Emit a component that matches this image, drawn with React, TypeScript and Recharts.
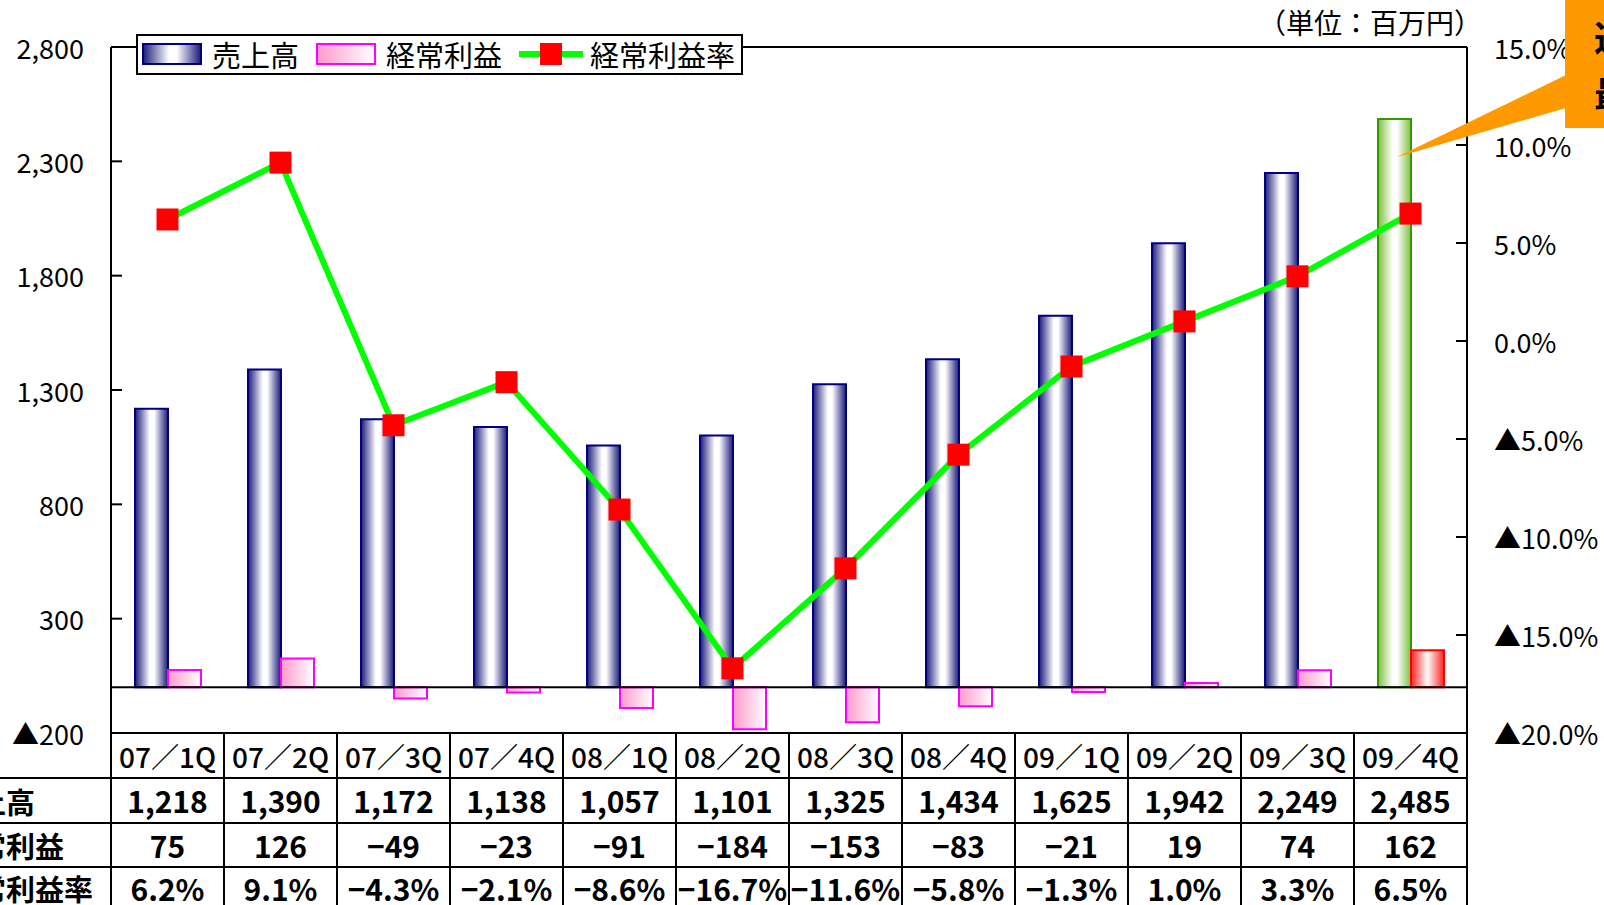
import React from "react";
import {
  Bar,
  Cell,
  ComposedChart,
  Legend,
  Line,
  ReferenceLine,
  XAxis,
  YAxis,
} from "recharts";

const FONT = '"Noto Sans CJK JP", "Noto Sans", sans-serif';

const quarters = [
  "07／1Q", "07／2Q", "07／3Q", "07／4Q",
  "08／1Q", "08／2Q", "08／3Q", "08／4Q",
  "09／1Q", "09／2Q", "09／3Q", "09／4Q",
];
const sales = [1218, 1390, 1172, 1138, 1057, 1101, 1325, 1434, 1625, 1942, 2249, 2485];
const profit = [75, 126, -49, -23, -91, -184, -153, -83, -21, 19, 74, 162];
const profitRate = [6.2, 9.1, -4.3, -2.1, -8.6, -16.7, -11.6, -5.8, -1.3, 1.0, 3.3, 6.5];
const leftTicks = [-200, 300, 800, 1300, 1800, 2300, 2800];
const rightTicks = [-20, -15, -10, -5, 0, 5, 10, 15];
const rowLabels = ["売上高", "経常利益", "経常利益率"];

const data = quarters.map((q, i) => ({
  q,
  sales: sales[i],
  profit: profit[i],
  rate: profitRate[i],
}));

const lastIdx = quarters.length - 1;

const fmtSales = (v: number) => v.toLocaleString("en-US");
const fmtSigned = (v: number) => (v < 0 ? "−" + Math.abs(v) : String(v));
const fmtRate = (v: number) =>
  (v < 0 ? "−" + Math.abs(v).toFixed(1) : v.toFixed(1)) + "%";
const fmtLeft = (v: number) =>
  v < 0 ? "▲" + Math.abs(v) : v.toLocaleString("en-US");
const fmtRight = (v: number) =>
  v < 0 ? "▲" + Math.abs(v).toFixed(1) + "%" : v.toFixed(1) + "%";

function LeftTick(props: any) {
  const { x, y, payload } = props;
  return (
    <g>
      <line x1={x} x2={x + 11} y1={y} y2={y} stroke="#000" strokeWidth={2} />
      <text
        x={x - 27}
        y={y}
        textAnchor="end"
        dominantBaseline="central"
        fontSize={27}
        fontFamily={FONT}
        fill="#000"
      >
        {fmtLeft(payload.value)}
      </text>
    </g>
  );
}

function RightTick(props: any) {
  const { x, y, payload } = props;
  return (
    <g>
      <line x1={x} x2={x - 11} y1={y} y2={y} stroke="#000" strokeWidth={2} />
      <text
        x={x + 27}
        y={y}
        textAnchor="start"
        dominantBaseline="central"
        fontSize={27}
        fontFamily={FONT}
        fill="#000"
      >
        {fmtRight(payload.value)}
      </text>
    </g>
  );
}

// each x tick draws one column of the data table under the chart
function TableTick(props: any) {
  const { x, y, payload, index } = props;
  const half =
    payload && payload.offset ? payload.offset : (props.width || 1356) / quarters.length / 2;
  const i = index ?? quarters.indexOf(payload.value);
  const l = x - half;
  const r = x + half;
  const rows = [
    payload.value,
    fmtSales(sales[i]),
    fmtSigned(profit[i]),
    fmtRate(profitRate[i]),
  ];
  const lines = [0, 45, 90, 134];
  const centers = [23, 67, 112, 155];
  return (
    <g>
      {lines.map((d) => (
        <line key={d} x1={l} x2={r} y1={y + d} y2={y + d} stroke="#000" strokeWidth={2} />
      ))}
      <line x1={l} x2={l} y1={y} y2={y + 180} stroke="#000" strokeWidth={2} />
      <line x1={r} x2={r} y1={y} y2={y + 180} stroke="#000" strokeWidth={2} />
      {rows.map((t, k) => (
        <text
          key={k}
          x={x}
          y={y + centers[k]}
          textAnchor="middle"
          dominantBaseline="central"
          fontSize={k === 0 ? 28 : 30}
          fontWeight={k === 0 ? 500 : "bold"}
          fontFamily={FONT}
          fill="#000"
        >
          {t}
        </text>
      ))}
    </g>
  );
}

function SquareDot(props: any) {
  const { cx, cy } = props;
  if (cx == null || cy == null) return null;
  return <rect x={cx - 11} y={cy - 11} width={22} height={22} fill="#FF0000" />;
}

function LegendBox() {
  const txt: React.CSSProperties = {
    position: "absolute",
    top: 0,
    height: 37,
    lineHeight: "37px",
    fontSize: 29,
    fontFamily: FONT,
    color: "#000",
    whiteSpace: "nowrap",
  };
  return (
    <div
      style={{
        position: "relative",
        width: 607,
        height: 41,
        border: "2px solid #000",
        boxSizing: "border-box",
        background: "#fff",
      }}
    >
      <svg width={60} height={22} style={{ position: "absolute", left: 4, top: 7 }}>
        <rect x={1} y={1} width={58} height={20} fill="url(#gSales)" stroke="#000080" strokeWidth={2} />
      </svg>
      <span style={{ ...txt, left: 74 }}>売上高</span>
      <svg width={60} height={22} style={{ position: "absolute", left: 178, top: 7 }}>
        <rect x={1} y={1} width={58} height={20} fill="url(#gProfit)" stroke="#FF00FF" strokeWidth={2} />
      </svg>
      <span style={{ ...txt, left: 248 }}>経常利益</span>
      <svg width={64} height={24} style={{ position: "absolute", left: 381, top: 6 }}>
        <line x1={0} x2={64} y1={12} y2={12} stroke="#00FF00" strokeWidth={6} />
        <rect x={21} y={1} width={22} height={22} fill="#FF0000" />
      </svg>
      <span style={{ ...txt, left: 452 }}>経常利益率</span>
    </div>
  );
}

export default function App() {
  return (
    <div
      style={{
        position: "absolute",
        left: 0,
        top: 0,
        width: 1604,
        height: 905,
        background: "#fff",
        fontFamily: FONT,
        overflow: "hidden",
      }}
    >
      <ComposedChart
        width={1604}
        height={905}
        data={data}
        margin={{ top: 47, right: 0, bottom: 0, left: 0 }}
        barGap={0}
        barCategoryGap={0}
      >
        <defs>
          <linearGradient id="gSales" x1="0" y1="0" x2="1" y2="0">
            <stop offset="0%" stopColor="#1a1a7a" />
            <stop offset="45%" stopColor="#ffffff" />
            <stop offset="58%" stopColor="#ffffff" />
            <stop offset="100%" stopColor="#1a1a7a" />
          </linearGradient>
          <linearGradient id="gProfit" x1="0" y1="0" x2="1" y2="0">
            <stop offset="0%" stopColor="#ff99cc" />
            <stop offset="100%" stopColor="#ffffff" />
          </linearGradient>
          <linearGradient id="gGreen" x1="0" y1="0" x2="1" y2="0">
            <stop offset="0%" stopColor="#7fbf3f" />
            <stop offset="45%" stopColor="#ffffff" />
            <stop offset="58%" stopColor="#ffffff" />
            <stop offset="100%" stopColor="#7fbf3f" />
          </linearGradient>
          <linearGradient id="gRed" x1="0" y1="0" x2="1" y2="0">
            <stop offset="0%" stopColor="#ff2020" />
            <stop offset="50%" stopColor="#ffffff" />
            <stop offset="100%" stopColor="#ff2020" />
          </linearGradient>
        </defs>
        <XAxis
          dataKey="q"
          height={172}
          axisLine={false}
          tickLine={false}
          tickSize={0}
          tickMargin={0}
          interval={0}
          tick={<TableTick />}
        />
        <YAxis
          yAxisId="left"
          orientation="left"
          width={111}
          domain={[-200, 2800]}
          ticks={leftTicks}
          interval={0}
          axisLine={{ stroke: "#000", strokeWidth: 2 }}
          tickLine={false}
          tickSize={0}
          tickMargin={0}
          tick={<LeftTick />}
        />
        <YAxis
          yAxisId="right"
          orientation="right"
          width={137}
          domain={[-20, 15]}
          ticks={rightTicks}
          interval={0}
          axisLine={{ stroke: "#000", strokeWidth: 2 }}
          tickLine={false}
          tickSize={0}
          tickMargin={0}
          tick={<RightTick />}
        />
        <ReferenceLine yAxisId="left" y={2800} stroke="#000" strokeWidth={2} />
        <ReferenceLine yAxisId="left" y={-200} stroke="#000" strokeWidth={2} />
        <Bar
          yAxisId="left"
          dataKey="sales"
          barSize={33}
          fill="url(#gSales)"
          stroke="#000080"
          strokeWidth={2}
          isAnimationActive={false}
        >
          {data.map((_, i) => (
            <Cell
              key={i}
              fill={i === lastIdx ? "url(#gGreen)" : "url(#gSales)"}
              stroke={i === lastIdx ? "#339900" : "#000080"}
            />
          ))}
        </Bar>
        <Bar
          yAxisId="left"
          dataKey="profit"
          barSize={33}
          fill="url(#gProfit)"
          stroke="#FF00FF"
          strokeWidth={2}
          isAnimationActive={false}
        >
          {data.map((_, i) => (
            <Cell
              key={i}
              fill={i === lastIdx ? "url(#gRed)" : "url(#gProfit)"}
              stroke={i === lastIdx ? "#FF0000" : "#FF00FF"}
            />
          ))}
        </Bar>
        <ReferenceLine yAxisId="left" y={0} stroke="#000" strokeWidth={2} />
        <Line
          yAxisId="right"
          dataKey="rate"
          stroke="#00FF00"
          strokeWidth={6}
          dot={<SquareDot />}
          activeDot={false}
          isAnimationActive={false}
        />
        <Legend
          layout="horizontal"
          verticalAlign="middle"
          align="center"
          content={() => <LegendBox />}
          wrapperStyle={{ position: "absolute", left: 136, top: 34, width: 607, height: 41 }}
        />
      </ComposedChart>

      <svg
        width={1604}
        height={905}
        style={{ position: "absolute", left: 0, top: 0, pointerEvents: "none" }}
      >
        {[778, 823, 867].map((yy) => (
          <line key={yy} x1={0} x2={111} y1={yy} y2={yy} stroke="#000" strokeWidth={2} />
        ))}
        {rowLabels.map((t, k) => (
          <text
            key={t}
            x={-52}
            y={[801, 845, 888][k]}
            dominantBaseline="central"
            fontSize={29}
            fontWeight="bold"
            fontFamily={FONT}
            fill="#000"
          >
            {t}
          </text>
        ))}
        <text
          x={1258}
          y={22}
          dominantBaseline="central"
          fontSize={28}
          fontFamily={FONT}
          fill="#000"
        >
          （単位：百万円）
        </text>
        <polygon points="1397,157 1566,75 1566,108" fill="#FF9900" />
        <rect x={1565} y={0} width={39} height={128} fill="#FF9900" />
        <text x={1594} y={36} dominantBaseline="central" fontSize={36} fontWeight="bold" fontFamily={FONT} fill="#000">
          過去
        </text>
        <text x={1594} y={92} dominantBaseline="central" fontSize={36} fontWeight="bold" fontFamily={FONT} fill="#000">
          最高
        </text>
      </svg>
    </div>
  );
}
